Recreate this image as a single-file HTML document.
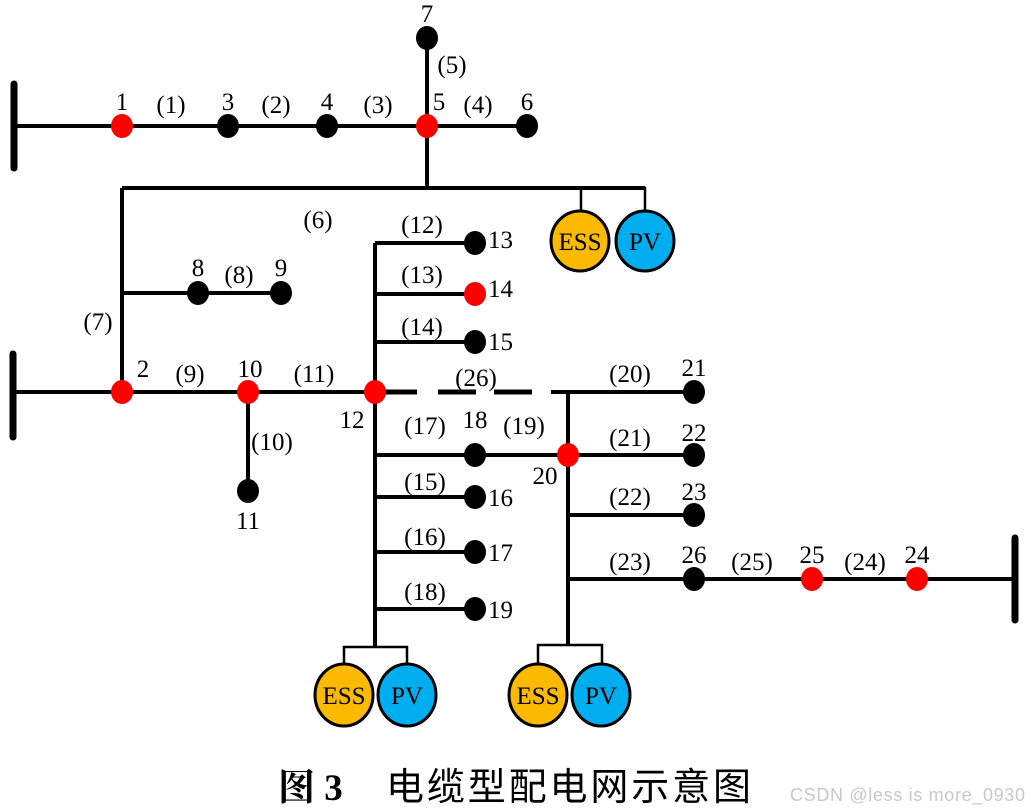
<!DOCTYPE html>
<html><head><meta charset="utf-8"><style>
html,body{margin:0;padding:0;background:#fff;}
svg{display:block;}
.t{font-family:"Liberation Serif",serif;font-size:25px;fill:#000;}
.m{text-anchor:middle;}
</style></head><body>
<svg width="1030" height="812" viewBox="0 0 1030 812" xmlns="http://www.w3.org/2000/svg">
<g stroke="#000" stroke-width="4" fill="none">
<!-- bus bars -->
<line x1="14" y1="84" x2="14" y2="168" stroke-width="7" stroke-linecap="round"/>
<line x1="13" y1="354" x2="13" y2="437" stroke-width="7" stroke-linecap="round"/>
<line x1="1015" y1="538" x2="1015" y2="620" stroke-width="7" stroke-linecap="round"/>
<!-- top line -->
<line x1="14" y1="126" x2="527" y2="126"/>
<line x1="427" y1="38" x2="427" y2="188"/>
<line x1="122" y1="188" x2="645" y2="188"/>
<line x1="122" y1="188" x2="122" y2="392"/>
<line x1="122" y1="293" x2="281" y2="293"/>
<!-- ESS/PV top -->
<polyline points="581,212 581,188 645,188 645,212" stroke-width="2.5"/>
<!-- second bus -->
<line x1="13" y1="392" x2="375" y2="392"/>
<line x1="248" y1="392" x2="248" y2="491"/>
<line x1="375" y1="243" x2="375" y2="647"/>
<line x1="375" y1="243" x2="475" y2="243"/>
<line x1="375" y1="294" x2="475" y2="294"/>
<line x1="375" y1="342" x2="475" y2="342"/>
<line x1="375" y1="455" x2="694" y2="455"/>
<line x1="375" y1="497" x2="475" y2="497"/>
<line x1="375" y1="552" x2="475" y2="552"/>
<line x1="375" y1="609" x2="475" y2="609"/>
<!-- dashed -->
<line x1="382" y1="392" x2="417" y2="392" stroke-width="5"/>
<line x1="438" y1="392" x2="476" y2="392" stroke-width="5"/>
<line x1="494" y1="392" x2="532" y2="392" stroke-width="5"/>
<line x1="551" y1="392" x2="694" y2="392"/>
<line x1="568" y1="392" x2="568" y2="645"/>
<line x1="568" y1="515" x2="694" y2="515"/>
<line x1="568" y1="579" x2="1015" y2="579"/>
<polyline points="344,667 344,647 407,647 407,667" stroke-width="2.5"/>
<polyline points="538,665 538,645 602,645 602,665" stroke-width="2.5"/>
</g>
<!-- black nodes -->
<g fill="#000">
<ellipse cx="228" cy="126" rx="11" ry="12"/>
<ellipse cx="327" cy="126" rx="11" ry="12"/>
<ellipse cx="527" cy="126" rx="11" ry="12"/>
<ellipse cx="427" cy="38" rx="11" ry="12"/>
<ellipse cx="198" cy="293" rx="11" ry="12"/>
<ellipse cx="281" cy="293" rx="11" ry="12"/>
<ellipse cx="248" cy="491" rx="11" ry="12"/>
<ellipse cx="475" cy="243" rx="11" ry="12"/>
<ellipse cx="475" cy="342" rx="11" ry="12"/>
<ellipse cx="475" cy="455" rx="11" ry="12"/>
<ellipse cx="475" cy="497" rx="11" ry="12"/>
<ellipse cx="475" cy="552" rx="11" ry="12"/>
<ellipse cx="475" cy="609" rx="11" ry="12"/>
<ellipse cx="694" cy="392" rx="11" ry="12"/>
<ellipse cx="694" cy="455" rx="11" ry="12"/>
<ellipse cx="694" cy="515" rx="11" ry="12"/>
<ellipse cx="694" cy="579" rx="11" ry="12"/>
</g>
<g fill="#f00">
<ellipse cx="122" cy="126" rx="11" ry="12"/>
<ellipse cx="427" cy="126" rx="11" ry="12"/>
<ellipse cx="122" cy="392" rx="11" ry="12"/>
<ellipse cx="248" cy="392" rx="11" ry="12"/>
<ellipse cx="375" cy="392" rx="11" ry="12"/>
<ellipse cx="475" cy="294" rx="11" ry="12"/>
<ellipse cx="568" cy="455" rx="11" ry="12"/>
<ellipse cx="812" cy="579" rx="11" ry="12"/>
<ellipse cx="917" cy="579" rx="11" ry="12"/>
</g>
<g stroke="#000" stroke-width="3" fill="none"></g>
<!-- ESS / PV circles -->
<g stroke="#000" stroke-width="3">
<ellipse cx="580" cy="241" rx="29" ry="30" fill="#fbba00"/>
<ellipse cx="645" cy="241" rx="29" ry="30" fill="#00aeef"/>
<ellipse cx="344" cy="695" rx="29" ry="31" fill="#fbba00"/>
<ellipse cx="407" cy="695" rx="29" ry="31" fill="#00aeef"/>
<ellipse cx="538" cy="695" rx="29" ry="31" fill="#fbba00"/>
<ellipse cx="601" cy="695" rx="29" ry="31" fill="#00aeef"/>
</g>
<g class="t m">
<text x="580" y="250">ESS</text><text x="645" y="250">PV</text>
<text x="344" y="704">ESS</text><text x="407" y="704">PV</text>
<text x="538" y="704">ESS</text><text x="601" y="704">PV</text>
<text x="122" y="110">1</text><text x="171" y="113">(1)</text>
<text x="228" y="110">3</text><text x="276" y="113">(2)</text>
<text x="327" y="110">4</text><text x="378" y="113">(3)</text>
<text x="439" y="110">5</text><text x="478" y="113">(4)</text>
<text x="527" y="110">6</text><text x="427" y="22">7</text>
<text x="452" y="73">(5)</text><text x="318" y="228">(6)</text>
<text x="422" y="233">(12)</text><text x="422" y="283">(13)</text><text x="422" y="335">(14)</text>
<text x="198" y="276">8</text><text x="239" y="283">(8)</text><text x="281" y="276">9</text>
<text x="98" y="330">(7)</text>
<text x="143" y="377">2</text><text x="190" y="382">(9)</text>
<text x="250" y="377">10</text><text x="314" y="382">(11)</text>
<text x="476" y="386">(26)</text><text x="630" y="382">(20)</text><text x="694" y="376">21</text>
<text x="352" y="428">12</text><text x="425" y="434">(17)</text><text x="475" y="428">18</text>
<text x="524" y="434">(19)</text><text x="630" y="446">(21)</text><text x="694" y="441">22</text>
<text x="545" y="484">20</text><text x="425" y="490">(15)</text>
<text x="630" y="505">(22)</text><text x="694" y="500">23</text>
<text x="425" y="545">(16)</text><text x="630" y="570">(23)</text>
<text x="694" y="563">26</text><text x="752" y="570">(25)</text>
<text x="812" y="563">25</text><text x="865" y="570">(24)</text><text x="917" y="563">24</text>
<text x="425" y="600">(18)</text>
<text x="248" y="529">11</text><text x="272" y="450">(10)</text>
</g>
<g class="t">
<text x="488" y="248">13</text><text x="488" y="297">14</text><text x="488" y="350">15</text>
<text x="488" y="506">16</text><text x="488" y="561">17</text><text x="488" y="618">19</text>
</g>
<text x="278" y="800" style="font-family:'Liberation Serif','Noto Serif CJK SC',serif;font-size:37px;font-weight:bold;">图 3</text>
<text x="386" y="800" style="font-family:'Liberation Sans','Noto Sans CJK SC',sans-serif;font-size:38px;" textLength="365">电缆型配电网示意图</text>
<text x="790" y="801" style="font-family:'Liberation Sans',sans-serif;font-size:18px;fill:#c8c8c8;" textLength="235">CSDN @less is more_0930</text>
</svg>
</body></html>
